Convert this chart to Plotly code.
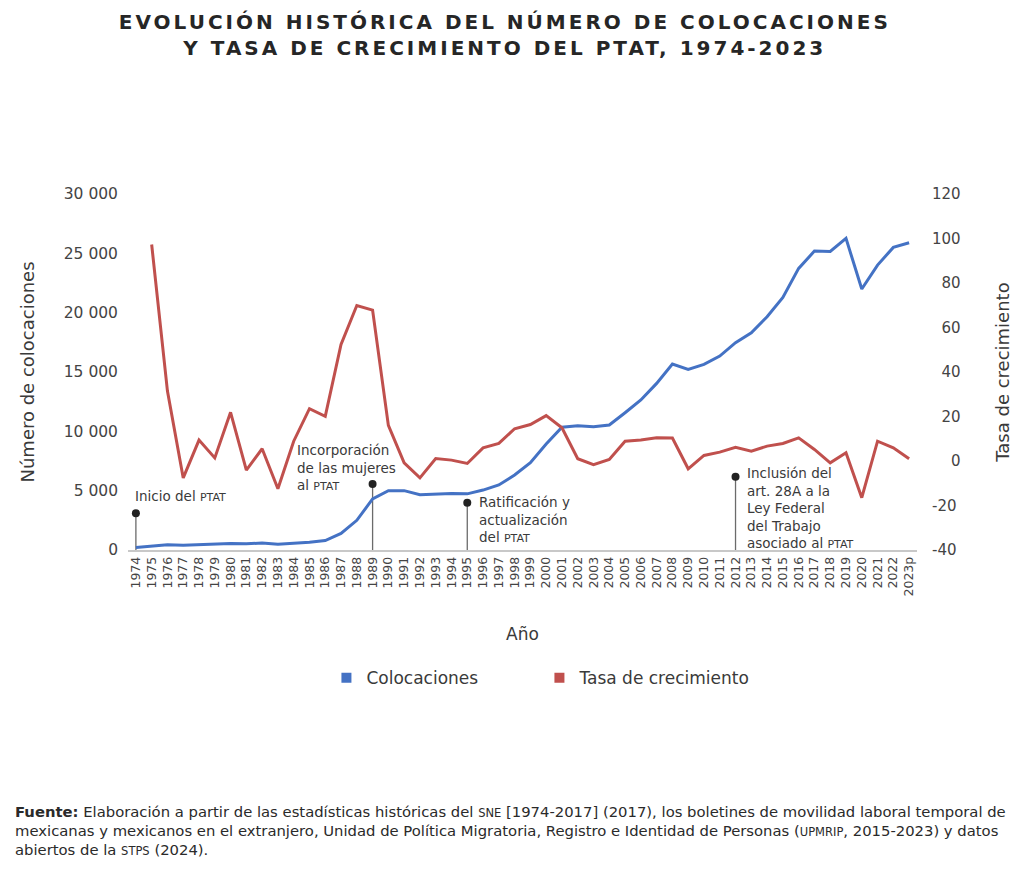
import plotly.graph_objects as go

# ---------------- data ----------------
years = list(range(1974, 2024))
year_labels = [str(y) for y in years[:-1]] + ["2023p"]

colocaciones = [203, 350, 450, 400, 450, 450, 550, 530, 580, 480,
                560, 650, 800, 1400, 2500, 4300, 5000, 5000, 4650, 4720,
                4760, 4730, 5050, 5480, 6320, 7360, 8930, 10340, 10470, 10390,
                10530, 11570, 12640, 14040, 15670, 15220, 15640, 16340, 17470, 18310,
                19660, 21290, 23730, 25190, 25160, 26260, 21990, 24010, 25500, 25890]

tasa = [None, 97.3, 31.4, -7.6, 9.4, 1.4, 21.9, -4.1, 5.5, -12.5,
        8.9, 23.5, 20.1, 52.4, 69.9, 67.8, 16.0, -0.8, -7.6, 1.1,
        0.4, -1.1, 5.9, 7.9, 14.5, 16.4, 20.4, 14.9, 1.0, -1.6,
        0.7, 8.9, 9.4, 10.4, 10.3, -3.5, 2.5, 4.0, 6.2, 4.4,
        6.7, 7.9, 10.4, 5.2, -0.8, 3.7, -16.5, 8.9, 5.9, 1.0]

left_ticks = [0, 5000, 10000, 15000, 20000, 25000, 30000]
left_ticktext = ["0", "5 000", "10 000", "15 000", "20 000", "25 000", "30 000"]
right_ticks = [-40, -20, 0, 20, 40, 60, 80, 100, 120]

sc = "<span style='font-size:11px'>PTAT</span>"
event_years = [1974, 1989, 1995, 2012]
event_labels = [
    "Inicio del " + sc,
    "Incorporación<br>de las mujeres<br>al " + sc,
    "Ratificación y<br>actualización<br>del " + sc,
    "Inclusión del<br>art. 28A a la<br>Ley Federal<br>del Trabajo<br>asociado al " + sc,
]
# layout (positions) for the event markers and labels
event_dot_y = [3100, 5560, 3980, 6170]
event_text_x = [1973.8, 1984.1, 1995.6, 2012.6]
event_text_y = [4550, 6990, 2530, 3500]

BLUE = "#4472C4"
RED = "#C0504D"
FONT = "DejaVu Sans"
TXT = "#3a3a3a"

W, H = 1016, 865  # page body has an 8px margin; figure fills the rest

fig = go.Figure()

# event stems
for yr, h in zip(event_years, event_dot_y):
    fig.add_trace(go.Scatter(x=[yr, yr], y=[0, h], mode="lines",
                             line=dict(color="#6b6b6b", width=1.3),
                             showlegend=False, hoverinfo="skip"))
    fig.add_trace(go.Scatter(x=[yr], y=[h], mode="markers",
                             marker=dict(color="#222222", size=8),
                             showlegend=False, hoverinfo="skip"))

fig.add_trace(go.Scatter(x=years, y=colocaciones, mode="lines", name="Colocaciones",
                         line=dict(color=BLUE, width=3), showlegend=False))
fig.add_trace(go.Scatter(x=years, y=tasa, mode="lines", name="Tasa de crecimiento",
                         line=dict(color=RED, width=3), yaxis="y2", showlegend=False))

# legend entries (square symbols)
fig.add_trace(go.Scatter(x=[None], y=[None], mode="markers", name="Colocaciones",
                         marker=dict(symbol="square", size=10, color=BLUE)))
fig.add_trace(go.Scatter(x=[None], y=[None], mode="markers", name="Tasa de crecimiento",
                         marker=dict(symbol="square", size=10, color=RED)))

for tx, ty, lab in zip(event_text_x, event_text_y, event_labels):
    fig.add_annotation(x=tx, y=ty, xref="x", yref="y", text=lab, showarrow=False,
                       xanchor="left", yanchor="middle", align="left",
                       font=dict(family=FONT, size=13.5, color=TXT))

title_style = "letter-spacing:3px;font-weight:bold"
fig.update_layout(
    width=W, height=H,
    paper_bgcolor="white", plot_bgcolor="white",
    margin=dict(l=120, r=107, t=186, b=323),
    font=dict(family=FONT, color=TXT),
    title=dict(
        text=(f"<span style='{title_style}'>EVOLUCIÓN HISTÓRICA DEL NÚMERO DE COLOCACIONES</span><br>"
              f"<span style='{title_style}'>Y TASA DE CRECIMIENTO DEL PTAT, 1974-2023</span>"),
        x=0.489, xref="container", xanchor="center",
        y=1 - 20.5 / H, yref="container", yanchor="middle",
        font=dict(family=FONT, size=20, color="#262626", weight="bold"),
    ),
    xaxis=dict(
        range=[1973.5, 2023.5], tickmode="array", tickvals=years, ticktext=year_labels,
        tickangle=-90, tickfont=dict(family=FONT, size=12.5, color="#444444"),
        showgrid=False, zeroline=False, showline=True, linecolor="#c8c8c8", linewidth=1.5,
        ticks="", title=dict(text="Año", font=dict(family=FONT, size=17, color=TXT), standoff=33),
    ),
    yaxis=dict(
        range=[0, 30000], tickmode="array", tickvals=left_ticks, ticktext=left_ticktext,
        tickfont=dict(family=FONT, size=15.5, color="#444444"), showgrid=False, zeroline=False,
        ticks="", ticklabelstandoff=9,
        title=dict(text="Número de colocaciones", font=dict(family=FONT, size=18, color=TXT), standoff=24),
    ),
    yaxis2=dict(
        range=[-40, 120], overlaying="y", side="right", tickmode="array", tickvals=right_ticks,
        ticktext=[("\u2007" * (3 - len(str(v))) + str(v)) if v >= 0 else str(v) for v in right_ticks],
        tickfont=dict(family=FONT, size=15, color="#444444"), showgrid=False, zeroline=False,
        ticks="", ticklabelstandoff=14,
        title=dict(text="Tasa de crecimiento", font=dict(family=FONT, size=18, color=TXT), standoff=36),
    ),
    legend=dict(orientation="h", x=0.2515, xanchor="left", y=-0.36, yanchor="middle",
                font=dict(family=FONT, size=17, color=TXT), itemwidth=30,
                entrywidth=168, entrywidthmode="pixels"),
)

fig.add_annotation(
    x=-0.1458, y=-0.705, xref="paper", yref="paper", xanchor="left", yanchor="top", align="left",
    showarrow=False, font=dict(family=FONT, size=14.8, color="#2a2a2a"),
    text=("<b>Fuente:</b> Elaboración a partir de las estadísticas históricas del "
          "<span style='font-size:11.5px'>SNE</span> [1974-2017] (2017), los boletines de movilidad laboral temporal de<br>"
          "mexicanas y mexicanos en el extranjero, Unidad de Política Migratoria, Registro e Identidad de Personas "
          "(<span style='font-size:11.5px'>UPMRIP</span>, 2015-2023) y datos<br>"
          "abiertos de la <span style='font-size:11.5px'>STPS</span> (2024)."),
)

fig.write_html("out.html")
